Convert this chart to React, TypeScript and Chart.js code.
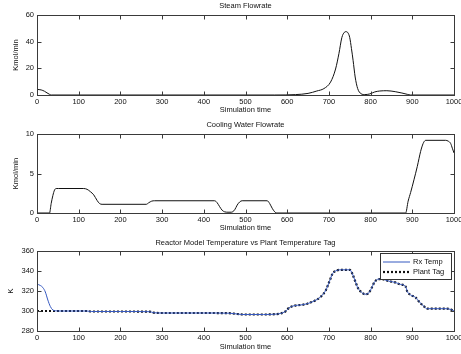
import React, { useEffect, useRef } from 'react';
import { Chart, registerables } from 'chart.js';

Chart.register(...registerables);

const FONT = "'Liberation Sans', Arial, Helvetica, sans-serif";
const TEXT = '#111111';

// ---- tick labels ----
const xTicks = [0, 100, 200, 300, 400, 500, 600, 700, 800, 900, 1000];
const steamTicks = [0, 20, 40, 60];
const coolingTicks = [0, 5, 10];
const tempTicks = [280, 300, 320, 340, 360];

// ---- Steam Flowrate ----
const steamTime = [0, 10, 18, 24, 30, 35, 570, 620, 650, 671, 688, 704, 716, 724, 731, 737, 741, 746, 750, 754, 758, 763, 769, 777, 786, 798, 810, 822, 839, 859, 875, 888, 896, 1000];
const steamFlow = [4.2, 3.8, 2.8, 1.6, 0.5, 0, 0, 0.3, 1.2, 3, 4.8, 9.7, 19.5, 31, 43, 47, 47.5, 46.5, 43, 35, 26, 13.5, 4.8, 1, 0.3, 0.8, 2.3, 3.0, 3.2, 2.5, 1.5, 0.5, 0, 0];

// ---- Cooling Water Flowrate ----
const coolingTime = [0, 30, 34, 38, 42, 46, 52, 112, 120, 128, 136, 144, 150, 156, 262, 268, 275, 282, 426, 432, 438, 444, 450, 458, 466, 474, 480, 486, 492, 552, 558, 564, 570, 575, 884, 890, 896, 904, 912, 920, 926, 932, 980, 986, 992, 996, 1000];
const coolingFlow = [0, 0, 1.2, 2.2, 2.9, 3.1, 3.1, 3.1, 3.0, 2.7, 2.3, 1.6, 1.2, 1.1, 1.1, 1.3, 1.5, 1.55, 1.55, 1.3, 0.8, 0.35, 0.15, 0.1, 0.1, 0.4, 1.0, 1.4, 1.55, 1.55, 1.2, 0.6, 0.15, 0, 0, 1.5, 2.6, 4.2, 5.9, 7.8, 8.8, 9.2, 9.2, 9.1, 8.8, 8.2, 7.6];

// ---- Reactor temperature ----
const tempTime = [0, 8, 14, 20, 26, 32, 38, 44, 50, 80, 120, 130, 200, 270, 280, 300, 400, 460, 480, 494, 543, 570, 584, 596, 604, 617, 632, 648, 669, 681, 693, 701, 709, 717, 730, 750, 756, 762, 770, 778, 786, 794, 802, 809, 819, 831, 843, 859, 871, 884, 888, 896, 908, 916, 928, 936, 949, 981, 994, 1000];
const rxTemp = [327, 325.5, 323.5, 319, 311, 304.5, 301, 300.2, 300, 300, 300, 299.5, 299.5, 299.3, 298.3, 298, 298, 297.8, 297, 296.5, 296.5, 296.8, 297.5, 299.7, 303, 305.3, 306, 307.3, 310.9, 314.5, 321.1, 329.3, 337.5, 340.2, 341.2, 341.2, 337.5, 331, 322.7, 318.8, 316.8, 317.4, 322.7, 328.6, 331.9, 331.6, 329.9, 328.6, 326.7, 324.4, 319.4, 316.1, 313.5, 309.5, 304.6, 302.3, 302.3, 302.3, 301.3, 300];
const plantTag = [300, 300, 300, 300, 300, 300, 300, 300, 300, 300, 300, 299.5, 299.5, 299.3, 298.3, 298, 298, 297.8, 297, 296.5, 296.5, 296.8, 297.5, 299.7, 303, 305.3, 306, 307.3, 310.9, 314.5, 321.1, 329.3, 337.5, 340.2, 341.2, 341.2, 337.5, 331, 322.7, 318.8, 316.8, 317.4, 322.7, 328.6, 331.9, 331.6, 329.9, 328.6, 326.7, 324.4, 319.4, 316.1, 313.5, 309.5, 304.6, 302.3, 302.3, 302.3, 301.3, 300];

const zip = (xs: number[], ys: number[]) => xs.map((x, i) => ({ x, y: ys[i] }));

const W = 461;
const PANEL_H = 118;

// frame + inward ticks, MATLAB style
const axesFrame = {
  id: 'axesFrame',
  afterDatasetsDraw(chart: any) {
    const { ctx, chartArea: a, scales } = chart;
    const L = Math.round(a.left) + 0.5;
    const R = Math.round(a.right) + 0.5;
    const T = Math.round(a.top) + 0.5;
    const B = Math.round(a.bottom) + 0.5;
    ctx.save();
    ctx.strokeStyle = '#3a3a3a';
    ctx.lineWidth = 1;
    ctx.strokeRect(L, T, R - L, B - T);
    const len = 4;
    ctx.beginPath();
    scales.x.ticks.forEach((t: any) => {
      const px = Math.round(scales.x.getPixelForValue(t.value)) + 0.5;
      ctx.moveTo(px, B); ctx.lineTo(px, B - len);
      ctx.moveTo(px, T); ctx.lineTo(px, T + len);
    });
    scales.y.ticks.forEach((t: any) => {
      const py = Math.round(scales.y.getPixelForValue(t.value)) + 0.5;
      ctx.moveTo(L, py); ctx.lineTo(L + len, py);
      ctx.moveTo(R, py); ctx.lineTo(R - len, py);
    });
    ctx.stroke();
    ctx.restore();
  },
};

const insetLegend = {
  id: 'insetLegend',
  afterDraw(chart: any, _args: any, opts: any) {
    if (!opts || !opts.display) return;
    const { ctx, chartArea: a } = chart;
    const w = opts.width;
    const h = opts.height;
    const x0 = Math.round(a.right - opts.right - w);
    const y0 = Math.round(a.top + opts.top);
    ctx.save();
    ctx.fillStyle = '#ffffff';
    ctx.fillRect(x0, y0, w, h);
    ctx.strokeStyle = '#333333';
    ctx.lineWidth = 1;
    ctx.strokeRect(x0 + 0.5, y0 + 0.5, w, h);
    chart.data.datasets.forEach((ds: any, i: number) => {
      const cy = y0 + opts.rowStart + i * opts.rowGap;
      ctx.beginPath();
      ctx.strokeStyle = ds.borderColor;
      ctx.lineWidth = ds.borderWidth;
      ctx.setLineDash(ds.borderDash || []);
      ctx.moveTo(x0 + 3, cy);
      ctx.lineTo(x0 + 3 + opts.sample, cy);
      ctx.stroke();
      ctx.setLineDash([]);
      ctx.fillStyle = TEXT;
      ctx.font = `7.5px ${FONT}`;
      ctx.textBaseline = 'middle';
      ctx.textAlign = 'left';
      ctx.fillText(ds.label, x0 + opts.sample + 6, cy);
    });
    ctx.restore();
  },
};

interface PanelSpec {
  title: string;
  yTitle: string;
  yTitlePad: number;
  yMin: number;
  yMax: number;
  yTicks: number[];
  plotTop: number;
  plotBottom: number;
  titleCenter: number;
  xTitleCenter: number;
  datasets: any[];
  legend?: boolean;
}

function makeConfig(p: PanelSpec): any {
  const tSize = 7.5;
  return {
    type: 'line',
    data: { datasets: p.datasets },
    plugins: [axesFrame, insetLegend],
    options: {
      responsive: false,
      animation: false,
      events: [],
      layout: { padding: { left: 0, right: 7, top: 0, bottom: 0 } },
      elements: { point: { radius: 0 } },
      plugins: {
        legend: { display: false },
        tooltip: { enabled: false },
        title: {
          display: true,
          fullSize: false,
          text: p.title,
          color: TEXT,
          font: { family: FONT, size: tSize, weight: 'normal', lineHeight: 1 },
          padding: { top: p.titleCenter - tSize / 2, bottom: p.plotTop - p.titleCenter - tSize / 2 },
        },
        insetLegend: p.legend
          ? { display: true, width: 71, height: 26, right: 3, top: 2, rowStart: 9, rowGap: 10, sample: 27 }
          : { display: false },
      },
      scales: {
        x: {
          type: 'linear',
          min: 0,
          max: 1000,
          afterBuildTicks: (s: any) => { s.ticks = xTicks.map((v) => ({ value: v })); },
          afterFit: (s: any) => {
            s.height = PANEL_H - p.plotBottom;
            s.paddingLeft = 0;
            s.paddingRight = 0;
          },
          grid: { display: false, drawTicks: false },
          border: { display: false },
          ticks: {
            autoSkip: false,
            maxRotation: 0,
            padding: 2,
            color: TEXT,
            font: { family: FONT, size: tSize },
            callback: (v: any) => String(v),
          },
          title: {
            display: true,
            text: 'Simulation time',
            color: TEXT,
            font: { family: FONT, size: tSize, lineHeight: 1.2 },
            padding: { top: 0, bottom: PANEL_H - p.xTitleCenter - (tSize * 1.2) / 2 },
          },
        },
        y: {
          type: 'linear',
          min: p.yMin,
          max: p.yMax,
          afterBuildTicks: (s: any) => { s.ticks = p.yTicks.map((v) => ({ value: v })); },
          afterFit: (s: any) => {
            s.width = 37;
            s.paddingTop = 0;
            s.paddingBottom = 0;
          },
          grid: { display: false, drawTicks: false },
          border: { display: false },
          ticks: {
            padding: 3,
            color: TEXT,
            font: { family: FONT, size: tSize },
            callback: (v: any) => String(v),
          },
          title: {
            display: true,
            text: p.yTitle,
            color: TEXT,
            font: { family: FONT, size: tSize, lineHeight: 1.2 },
            padding: { top: p.yTitlePad, bottom: 0 },
          },
        },
      },
    },
  };
}

const lineStyle = {
  borderColor: '#111111',
  borderWidth: 1,
  cubicInterpolationMode: 'monotone',
  fill: false,
  pointRadius: 0,
};

const panels: { top: number; spec: PanelSpec }[] = [
  {
    top: 0,
    spec: {
      title: 'Steam Flowrate',
      yTitle: 'Kmol/min',
      yTitlePad: 11.5,
      yMin: 0,
      yMax: 60,
      yTicks: steamTicks,
      plotTop: 15,
      plotBottom: 95,
      titleCenter: 6,
      xTitleCenter: 110,
      datasets: [{ ...lineStyle, label: 'Steam', data: zip(steamTime, steamFlow) }],
    },
  },
  {
    top: 118,
    spec: {
      title: 'Cooling Water Flowrate',
      yTitle: 'Kmol/min',
      yTitlePad: 11.5,
      yMin: 0,
      yMax: 10,
      yTicks: coolingTicks,
      plotTop: 16,
      plotBottom: 95,
      titleCenter: 7,
      xTitleCenter: 110,
      datasets: [{ ...lineStyle, label: 'Cooling', data: zip(coolingTime, coolingFlow) }],
    },
  },
  {
    top: 236,
    spec: {
      title: 'Reactor Model Temperature vs Plant Temperature Tag',
      yTitle: 'K',
      yTitlePad: 6.5,
      yMin: 280,
      yMax: 360,
      yTicks: tempTicks,
      plotTop: 15,
      plotBottom: 95,
      titleCenter: 7,
      xTitleCenter: 111,
      legend: true,
      datasets: [
        { ...lineStyle, label: 'Rx Temp', borderColor: '#3558c0', borderWidth: 1, data: zip(tempTime, rxTemp) },
        { ...lineStyle, label: 'Plant Tag', borderColor: '#111111', borderWidth: 2.2, borderDash: [2, 2], data: zip(tempTime, plantTag) },
      ],
    },
  },
];

function Panel({ spec, top }: { spec: PanelSpec; top: number }) {
  const ref = useRef<HTMLCanvasElement | null>(null);
  useEffect(() => {
    if (!ref.current) return;
    const chart = new Chart(ref.current, makeConfig(spec));
    return () => chart.destroy();
  }, []);
  return (
    <div style={{ position: 'absolute', left: 0, top, width: W, height: PANEL_H }}>
      <canvas ref={ref} width={W} height={PANEL_H} style={{ display: 'block', width: W, height: PANEL_H }} />
    </div>
  );
}

export default function App() {
  return (
    <div style={{ position: 'fixed', left: 0, top: 0, width: W, height: 354, background: '#ffffff', overflow: 'hidden' }}>
      {panels.map((p, i) => (
        <Panel key={i} spec={p.spec} top={p.top} />
      ))}
    </div>
  );
}
